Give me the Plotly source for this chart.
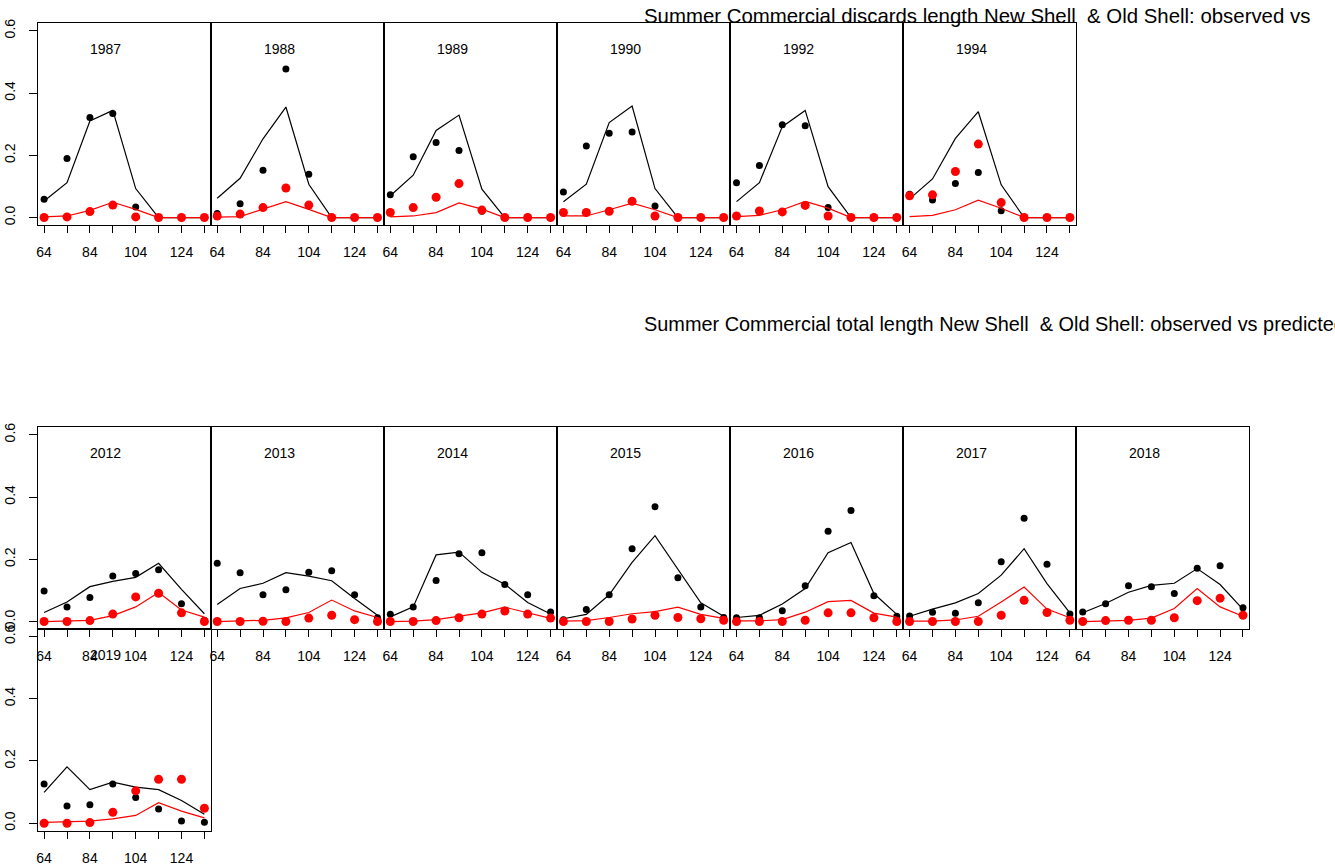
import plotly.graph_objects as go

# Carapace length bins (mm) and axis labelling
lengths = [64, 74, 84, 94, 104, 114, 124, 134]
x_tick_text = ["64", "", "84", "", "104", "", "124", ""]
y_ticks = [0.0, 0.2, 0.4, 0.6]
y_tick_text = ["0.0", "0.2", "0.4", "0.6"]

# ---- Summer commercial discards: proportions at length ----
discard_years = ["1987", "1988", "1989", "1990", "1992", "1994"]
discard_obs_new = {
    "1987": [0.059, 0.190, 0.321, 0.334, 0.034, 0.0, 0.0, 0.0],
    "1988": [0.013, 0.044, 0.152, 0.477, 0.139, 0.0, 0.0, 0.0],
    "1989": [0.073, 0.195, 0.241, 0.215, 0.020, 0.0, 0.0, 0.0],
    "1990": [0.082, 0.230, 0.271, 0.275, 0.037, 0.0, 0.0, 0.0],
    "1992": [0.112, 0.167, 0.298, 0.295, 0.032, 0.0, 0.0, 0.0],
    "1994": [0.075, 0.056, 0.109, 0.145, 0.022, 0.0, 0.0, 0.0],
}
discard_pred_new = {
    "1987": [0.053, 0.112, 0.310, 0.344, 0.093, 0.0, 0.0, 0.0],
    "1988": [0.062, 0.126, 0.253, 0.355, 0.107, 0.0, 0.0, 0.0],
    "1989": [0.070, 0.136, 0.280, 0.329, 0.091, 0.0, 0.0, 0.0],
    "1990": [0.051, 0.107, 0.305, 0.358, 0.093, 0.0, 0.0, 0.0],
    "1992": [0.051, 0.112, 0.292, 0.344, 0.099, 0.0, 0.0, 0.0],
    "1994": [0.060, 0.124, 0.254, 0.340, 0.105, 0.0, 0.0, 0.0],
}
discard_obs_old = {
    "1987": [0.000, 0.002, 0.019, 0.040, 0.002, 0.0, 0.0, 0.0],
    "1988": [0.005, 0.011, 0.032, 0.095, 0.040, 0.0, 0.0, 0.0],
    "1989": [0.016, 0.032, 0.065, 0.109, 0.024, 0.0, 0.0, 0.0],
    "1990": [0.016, 0.016, 0.020, 0.052, 0.005, 0.0, 0.0, 0.0],
    "1992": [0.005, 0.021, 0.018, 0.039, 0.005, 0.0, 0.0, 0.0],
    "1994": [0.070, 0.073, 0.148, 0.236, 0.048, 0.0, 0.0, 0.0],
}
discard_pred_old = {
    "1987": [0.002, 0.005, 0.023, 0.049, 0.026, 0.0, 0.0, 0.0],
    "1988": [0.001, 0.003, 0.027, 0.051, 0.026, 0.0, 0.0, 0.0],
    "1989": [0.002, 0.005, 0.016, 0.047, 0.027, 0.0, 0.0, 0.0],
    "1990": [0.005, 0.005, 0.025, 0.046, 0.025, 0.0, 0.0, 0.0],
    "1992": [0.003, 0.007, 0.025, 0.052, 0.030, 0.0, 0.0, 0.0],
    "1994": [0.003, 0.007, 0.025, 0.056, 0.030, 0.0, 0.0, 0.0],
}

# ---- Summer commercial total catch: proportions at length ----
total_years = ["2012", "2013", "2014", "2015", "2016", "2017", "2018", "2019"]
total_obs_new = {
    "2012": [0.098, 0.047, 0.077, 0.146, 0.154, 0.166, 0.057, 0.004],
    "2013": [0.187, 0.157, 0.086, 0.102, 0.158, 0.163, 0.086, 0.012],
    "2014": [0.023, 0.047, 0.132, 0.218, 0.221, 0.119, 0.086, 0.031],
    "2015": [0.006, 0.039, 0.086, 0.234, 0.369, 0.141, 0.047, 0.013],
    "2016": [0.012, 0.012, 0.035, 0.115, 0.290, 0.357, 0.083, 0.017],
    "2017": [0.018, 0.030, 0.027, 0.060, 0.192, 0.332, 0.184, 0.024],
    "2018": [0.031, 0.057, 0.115, 0.112, 0.090, 0.171, 0.179, 0.044],
    "2019": [0.126, 0.055, 0.059, 0.126, 0.083, 0.046, 0.007, 0.003],
}
total_pred_new = {
    "2012": [0.029, 0.063, 0.112, 0.129, 0.142, 0.187, 0.103, 0.025],
    "2013": [0.055, 0.106, 0.123, 0.157, 0.146, 0.131, 0.074, 0.020],
    "2014": [0.015, 0.047, 0.214, 0.223, 0.158, 0.120, 0.061, 0.024],
    "2015": [0.009, 0.023, 0.086, 0.190, 0.276, 0.169, 0.060, 0.017],
    "2016": [0.013, 0.020, 0.056, 0.106, 0.221, 0.254, 0.090, 0.023],
    "2017": [0.017, 0.040, 0.060, 0.090, 0.149, 0.234, 0.122, 0.028],
    "2018": [0.028, 0.058, 0.094, 0.116, 0.123, 0.170, 0.119, 0.039],
    "2019": [0.099, 0.181, 0.108, 0.132, 0.116, 0.108, 0.073, 0.029],
}
total_obs_old = {
    "2012": [0.000, 0.000, 0.003, 0.024, 0.079, 0.091, 0.028, 0.000],
    "2013": [0.000, 0.000, 0.001, 0.000, 0.011, 0.020, 0.006, 0.000],
    "2014": [0.000, 0.000, 0.003, 0.012, 0.024, 0.034, 0.024, 0.011],
    "2015": [0.000, 0.000, 0.000, 0.008, 0.020, 0.013, 0.009, 0.004],
    "2016": [0.000, 0.000, 0.000, 0.004, 0.028, 0.028, 0.012, 0.000],
    "2017": [0.000, 0.000, 0.000, 0.000, 0.020, 0.068, 0.029, 0.004],
    "2018": [0.000, 0.003, 0.004, 0.004, 0.012, 0.067, 0.075, 0.020],
    "2019": [0.000, 0.000, 0.002, 0.035, 0.104, 0.141, 0.141, 0.048],
}
total_pred_old = {
    "2012": [0.000, 0.001, 0.004, 0.019, 0.047, 0.093, 0.037, 0.014],
    "2013": [0.000, 0.001, 0.004, 0.012, 0.029, 0.069, 0.034, 0.013],
    "2014": [0.000, 0.001, 0.006, 0.016, 0.028, 0.046, 0.028, 0.010],
    "2015": [0.001, 0.003, 0.013, 0.025, 0.032, 0.046, 0.023, 0.010],
    "2016": [0.002, 0.002, 0.006, 0.030, 0.064, 0.068, 0.027, 0.014],
    "2017": [0.001, 0.001, 0.005, 0.017, 0.063, 0.111, 0.040, 0.012],
    "2018": [0.000, 0.002, 0.004, 0.011, 0.042, 0.106, 0.047, 0.017],
    "2019": [0.003, 0.004, 0.007, 0.014, 0.025, 0.066, 0.039, 0.017],
}

# ---- page geometry (pixels) ----
W, H = 1335, 867
FONT = "Liberation Sans, Arial, Helvetica, sans-serif"
PANEL_LEFT = 37.7
PANEL_W = 173.1
PANEL_H = 201.7
X_RANGE = [61.2, 136.8]
Y_RANGE = [-0.024, 0.624]

# (year, data dicts, column, top edge in px)
panels = []
for i, yr in enumerate(discard_years):
    panels.append((yr, discard_obs_new, discard_pred_new, discard_obs_old,
                   discard_pred_old, i, 23.3))
for i, yr in enumerate(total_years):
    col, top = (i, 427.3) if i < 7 else (0, 629.0)
    panels.append((yr, total_obs_new, total_pred_new, total_obs_old,
                   total_pred_old, col, top))

fig = go.Figure()
layout = dict(
    width=W, height=H,
    margin=dict(l=0, r=0, t=0, b=0, autoexpand=False),
    paper_bgcolor="white", plot_bgcolor="white",
    showlegend=False,
    font=dict(family=FONT, color="black", size=14),
)
annotations = []

for k, (yr, obs_new, pred_new, obs_old, pred_old, col, top) in enumerate(panels, start=1):
    xa, ya = f"x{k}", f"y{k}"
    x0 = PANEL_LEFT + col * PANEL_W
    x1 = x0 + PANEL_W
    y_bot = top + PANEL_H

    fig.add_trace(go.Scatter(x=lengths, y=pred_new[yr], mode="lines",
                             line=dict(color="black", width=1.2),
                             xaxis=xa, yaxis=ya, hoverinfo="skip"))
    fig.add_trace(go.Scatter(x=lengths, y=obs_new[yr], mode="markers",
                             marker=dict(color="black", size=7),
                             xaxis=xa, yaxis=ya))
    fig.add_trace(go.Scatter(x=lengths, y=pred_old[yr], mode="lines",
                             line=dict(color="#ff0000", width=1.2),
                             xaxis=xa, yaxis=ya, hoverinfo="skip"))
    fig.add_trace(go.Scatter(x=lengths, y=obs_old[yr], mode="markers",
                             marker=dict(color="#ff0000", size=9),
                             xaxis=xa, yaxis=ya))

    suffix = "" if k == 1 else str(k)
    layout["xaxis" + suffix] = dict(
        domain=[x0 / W, x1 / W], range=X_RANGE, anchor=ya,
        automargin=False,
        showgrid=False, zeroline=False,
        showline=True, mirror=True, linecolor="black", linewidth=1,
        ticks="outside", ticklen=7, tickwidth=1, tickcolor="black",
        tickvals=lengths, ticktext=x_tick_text,
        tickfont=dict(family=FONT, size=14, color="black"),
        ticklabelstandoff=7, fixedrange=True,
    )
    first_col = col == 0
    layout["yaxis" + suffix] = dict(
        domain=[1 - y_bot / H, 1 - top / H], range=Y_RANGE, anchor=xa,
        automargin=False,
        showgrid=False, zeroline=False,
        showline=True, mirror=True, linecolor="black", linewidth=1,
        ticks="outside" if first_col else "", ticklen=8, tickwidth=1,
        tickcolor="black",
        tickvals=y_ticks, ticktext=y_tick_text,
        showticklabels=first_col, tickangle=-90,
        tickfont=dict(family=FONT, size=14, color="black"),
        ticklabelstandoff=8, fixedrange=True,
    )
    annotations.append(dict(
        x=91, y=0.54, xref=xa, yref=ya, text=yr, showarrow=False,
        font=dict(family=FONT, size=14, color="black"),
        xanchor="center", yanchor="middle",
    ))

annotations.append(dict(
    x=642 / W, y=1 - 16 / H, xref="paper", yref="paper",
    text="Summer Commercial discards length New Shell  &amp; Old Shell: observed vs",
    showarrow=False, xanchor="left", yanchor="middle",
    font=dict(family=FONT, size=20.4, color="black"),
))
annotations.append(dict(
    x=642 / W, y=1 - 324 / H, xref="paper", yref="paper",
    text="Summer Commercial total length New Shell  &amp; Old Shell: observed vs predicted",
    showarrow=False, xanchor="left", yanchor="middle",
    font=dict(family=FONT, size=19.9, color="black"),
))
layout["annotations"] = annotations

fig.update_layout(**layout)
fig.write_html("out.html")
